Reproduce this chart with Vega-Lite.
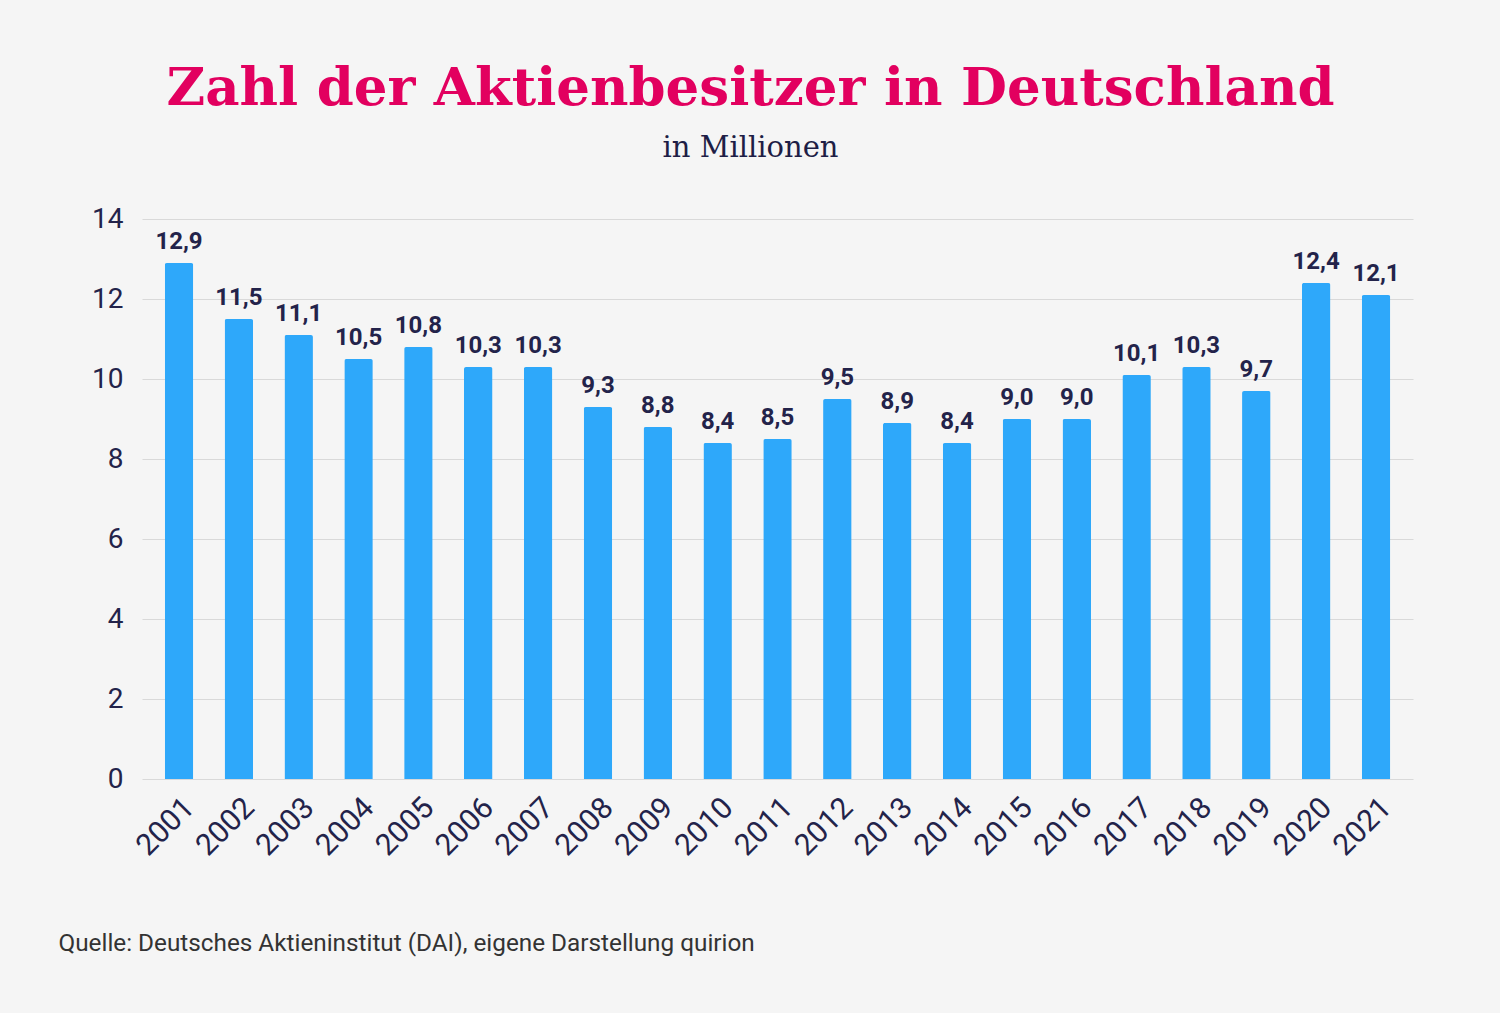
{
  "$schema": "https://vega.github.io/schema/vega-lite/v6.json",
  "description": "Zahl der Aktienbesitzer in Deutschland",
  "autosize": {"type": "none"},
  "width": 1271,
  "height": 560,
  "padding": {"left": 142, "top": 219, "right": 87, "bottom": 234},
  "background": "#f5f5f5",
  "title": {
    "text": "Zahl der Aktienbesitzer in Deutschland",
    "subtitle": "in Millionen",
    "anchor": "middle",
    "dx": -27,
    "offset": 42,
    "font": "DejaVu Serif",
    "fontSize": 53,
    "fontWeight": "bold",
    "color": "#e2005f",
    "subtitleFont": "DejaVu Serif",
    "subtitleFontSize": 29,
    "subtitleColor": "#1e1e46",
    "subtitlePadding": 18
  },
  "data": {
    "values": [
      {"jahr": "2001", "wert": 12.9},
      {"jahr": "2002", "wert": 11.5},
      {"jahr": "2003", "wert": 11.1},
      {"jahr": "2004", "wert": 10.5},
      {"jahr": "2005", "wert": 10.8},
      {"jahr": "2006", "wert": 10.3},
      {"jahr": "2007", "wert": 10.3},
      {"jahr": "2008", "wert": 9.3},
      {"jahr": "2009", "wert": 8.8},
      {"jahr": "2010", "wert": 8.4},
      {"jahr": "2011", "wert": 8.5},
      {"jahr": "2012", "wert": 9.5},
      {"jahr": "2013", "wert": 8.9},
      {"jahr": "2014", "wert": 8.4},
      {"jahr": "2015", "wert": 9.0},
      {"jahr": "2016", "wert": 9.0},
      {"jahr": "2017", "wert": 10.1},
      {"jahr": "2018", "wert": 10.3},
      {"jahr": "2019", "wert": 9.7},
      {"jahr": "2020", "wert": 12.4},
      {"jahr": "2021", "wert": 12.1}
    ]
  },
  "encoding": {
    "x": {
      "field": "jahr",
      "type": "ordinal",
      "scale": {"paddingInner": 0.524, "paddingOuter": 0.38},
      "axis": {
        "title": "Quelle: Deutsches Aktieninstitut (DAI), eigene Darstellung quirion",
        "titleAnchor": "start",
        "titleX": -84,
        "titleY": 171,
        "titleBaseline": "alphabetic",
        "titleFont": "Roboto",
        "titleFontSize": 24.3,
        "titleFontWeight": "normal",
        "titleColor": "#333333",
        "labelAngle": -45,
        "labelFont": "Roboto",
        "labelFontSize": 30,
        "labelColor": "#23234a",
        "labelPadding": 13,
        "domain": false,
        "ticks": false
      }
    },
    "y": {
      "field": "wert",
      "type": "quantitative",
      "scale": {"domain": [0, 14]},
      "axis": {
        "title": null,
        "values": [0, 2, 4, 6, 8, 10, 12, 14],
        "labelFont": "Roboto",
        "labelFontSize": 28,
        "labelColor": "#23234a",
        "labelPadding": 19,
        "domain": false,
        "ticks": false,
        "gridColor": "#d9d9d9",
        "gridWidth": 1
      }
    }
  },
  "layer": [
    {
      "mark": {"type": "bar", "color": "#2ea8fa", "cornerRadiusTopLeft": 2, "cornerRadiusTopRight": 2}
    },
    {
      "mark": {"type": "text", "baseline": "bottom", "dy": -9, "font": "Roboto", "fontSize": 24, "fontWeight": "bold", "color": "#23234a"},
      "encoding": {
        "text": {"field": "wert", "type": "quantitative", "format": ".1f"}
      }
    }
  ],
  "config": {
    "locale": {
      "number": {"decimal": ",", "thousands": ".", "grouping": [3], "currency": ["", " €"]}
    },
    "view": {"stroke": null}
  }
}
